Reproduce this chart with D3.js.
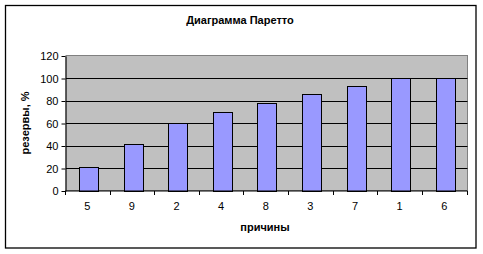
<!DOCTYPE html>
<html lang="ru">
<head>
    <meta charset="UTF-8">
    <title>Диаграмма Паретто</title>
    <script src="https://d3js.org/d3.v7.min.js"></script>
    <style>
        body { margin: 0; padding: 0; background-color: white; }
        svg { display: block; font-family: "Liberation Sans", Arial, sans-serif; }
    </style>
</head>
<body>
    <div id="chart"></div>
    <script>
        // data
        const causes = ["5", "9", "2", "4", "8", "3", "7", "1", "6"];
        const reserves = [21, 41, 60, 70, 78, 86, 93, 100, 100];
        const yTicks = [0, 20, 40, 60, 80, 100, 120];

        const width = 483, height = 254;
        const plot = { left: 66, top: 55.5, right: 467.5, bottom: 190.5 };

        const svg = d3.select("#chart").append("svg")
            .attr("width", width)
            .attr("height", height);

        // outer frame
        svg.append("rect")
            .attr("x", 5.5).attr("y", 5.5)
            .attr("width", 470.5).attr("height", 242.5)
            .attr("fill", "white")
            .attr("stroke", "black")
            .attr("stroke-width", 1.3);

        const x = d3.scaleBand()
            .domain(causes)
            .range([plot.left, plot.right])
            .paddingInner(0.58)
            .paddingOuter(0.29);

        const xBand = d3.scaleBand()
            .domain(causes)
            .range([plot.left, plot.right]);

        const y = d3.scaleLinear()
            .domain([0, 120])
            .range([plot.bottom, plot.top]);

        // plot area
        svg.append("rect")
            .attr("x", plot.left).attr("y", plot.top)
            .attr("width", plot.right - plot.left)
            .attr("height", plot.bottom - plot.top)
            .attr("fill", "#c0c0c0")
            .attr("stroke", "#808080")
            .attr("stroke-width", 1);

        // gridlines
        svg.append("g")
            .selectAll("line")
            .data(yTicks.filter(d => d > 0 && d < 120))
            .join("line")
            .attr("x1", plot.left).attr("x2", plot.right)
            .attr("y1", d => Math.round(y(d)) + 0.5)
            .attr("y2", d => Math.round(y(d)) + 0.5)
            .attr("stroke", "black");

        // bars
        svg.append("g")
            .selectAll("rect")
            .data(reserves)
            .join("rect")
            .attr("x", (d, i) => Math.round(x(causes[i])) + 0.5)
            .attr("y", d => Math.round(y(d)) + 0.5)
            .attr("width", Math.round(x.bandwidth()))
            .attr("height", d => Math.round(y(0)) - Math.round(y(d)))
            .attr("fill", "#9999ff")
            .attr("stroke", "black")
            .attr("stroke-width", 1);

        // y axis
        const yAxis = svg.append("g")
            .attr("transform", `translate(${plot.left - 0.5},0.5)`)
            .call(d3.axisLeft(y).tickValues(yTicks).tickSize(4).tickPadding(3).tickSizeOuter(0));
        yAxis.select(".domain").attr("stroke", "black");
        yAxis.selectAll("text").attr("font-size", 11).attr("font-family", "Liberation Sans, Arial, sans-serif").attr("fill", "black");

        // x axis
        const xAxis = svg.append("g")
            .attr("transform", `translate(0,${plot.bottom + 0.5})`);
        xAxis.append("line")
            .attr("x1", plot.left - 1).attr("x2", plot.right)
            .attr("stroke", "black");
        xAxis.selectAll(".tickmark")
            .data(causes.concat(["end"]))
            .join("line")
            .attr("class", "tickmark")
            .attr("x1", (d, i) => Math.round(plot.left + i * xBand.bandwidth()) - 0.5)
            .attr("x2", (d, i) => Math.round(plot.left + i * xBand.bandwidth()) - 0.5)
            .attr("y1", 0).attr("y2", 4)
            .attr("stroke", "black");
        xAxis.selectAll("text")
            .data(causes)
            .join("text")
            .attr("x", d => xBand(d) + xBand.bandwidth() / 2 - 1)
            .attr("y", 19)
            .attr("text-anchor", "middle")
            .attr("font-size", 11)
            .text(d => d);

        // titles
        svg.append("text")
            .attr("x", 240).attr("y", 24)
            .attr("text-anchor", "middle")
            .attr("font-size", 11)
            .attr("font-weight", "bold")
            .text("Диаграмма Паретто");

        svg.append("text")
            .attr("x", 265).attr("y", 231)
            .attr("text-anchor", "middle")
            .attr("font-size", 11)
            .attr("font-weight", "bold")
            .text("причины");

        svg.append("text")
            .attr("transform", `translate(29,${(plot.top + plot.bottom) / 2}) rotate(-90)`)
            .attr("text-anchor", "middle")
            .attr("font-size", 11)
            .attr("font-weight", "bold")
            .text("резервы, %");
    </script>
</body>
</html>
